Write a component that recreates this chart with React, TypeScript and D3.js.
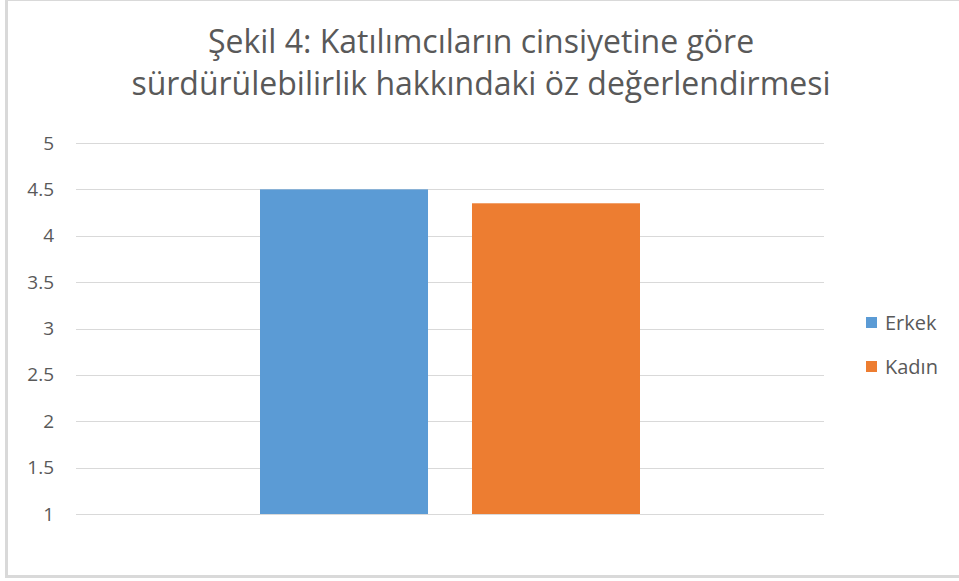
import React, { useEffect, useRef } from 'react';
import * as d3 from 'd3';

// chart data
const titleLines = ['Şekil 4: Katılımcıların cinsiyetine göre', 'sürdürülebilirlik hakkındaki öz değerlendirmesi'];
const category = [''];
const seriesNames = ['Erkek', 'Kadın'];
const seriesValues = [4.5, 4.35];
const seriesColors = ['#5B9BD5', '#ED7D31'];
const yTicks = [1, 1.5, 2, 2.5, 3, 3.5, 4, 4.5, 5];

const W = 959;
const H = 581;
const FONT = "'Open Sans', 'Liberation Sans', sans-serif";
const TEXT = '#595959';

const App = () => {
    const svgRef = useRef<SVGSVGElement>(null);

    useEffect(() => {
        const svg = d3.select(svgRef.current);
        svg.selectAll('*').remove();

        svg.append('rect').attr('width', W).attr('height', H).attr('fill', '#fff');

        // рамка
        const border = svg.append('g').attr('stroke', '#D9D9D9').attr('fill', 'none');
        border.append('line').attr('x1', 6.5).attr('x2', 6.5).attr('y1', 0).attr('y2', 578).attr('stroke-width', 3);
        border.append('line').attr('x1', 5).attr('x2', W).attr('y1', 0.5).attr('y2', 0.5).attr('stroke-width', 1);
        border.append('line').attr('x1', 5).attr('x2', W).attr('y1', 576.5).attr('y2', 576.5).attr('stroke-width', 3);

        // заголовок
        svg.append('g')
            .selectAll('text')
            .data(titleLines)
            .join('text')
            .attr('x', 481)
            .attr('y', (d, i) => 53 + i * 42)
            .attr('text-anchor', 'middle')
            .attr('font-family', FONT)
            .attr('font-size', 32)
            .attr('fill', TEXT)
            .text(d => d);

        const x = d3.scaleBand().domain(category).range([76, 824]);
        const xs = d3.scaleBand().domain(seriesNames).range([0, x.bandwidth()])
            .paddingInner(0.2075).paddingOuter(0.868);
        const y = d3.scaleLinear().domain([1, 5]).range([514, 143]);

        // сетка
        svg.append('g')
            .selectAll('line')
            .data(yTicks)
            .join('line')
            .attr('x1', 76).attr('x2', 824)
            .attr('y1', d => Math.round(y(d)) + 0.5).attr('y2', d => Math.round(y(d)) + 0.5)
            .attr('stroke', '#D9D9D9').attr('stroke-width', 1);

        const yAxis = svg.append('g')
            .attr('transform', 'translate(54,0)')
            .call(d3.axisLeft(y).tickValues(yTicks).tickSize(0).tickPadding(0).tickFormat(d3.format('')));
        yAxis.select('.domain').remove();
        yAxis.selectAll('text')
            .attr('font-family', FONT).attr('font-size', 19).attr('fill', TEXT);

        // столбцы
        svg.append('g')
            .selectAll('rect')
            .data(seriesNames.map((s, i) => ({ s, v: seriesValues[i], c: seriesColors[i] })))
            .join('rect')
            .attr('x', d => (x('') as number) + (xs(d.s) as number))
            .attr('width', xs.bandwidth())
            .attr('y', d => y(d.v))
            .attr('height', d => y(1) - y(d.v))
            .attr('fill', d => d.c);

        // легенда
        const legend = svg.append('g')
            .selectAll('g')
            .data(seriesNames)
            .join('g')
            .attr('transform', (d, i) => `translate(866,${317 + i * 44})`);
        legend.append('rect').attr('width', 11).attr('height', 11).attr('fill', (d, i) => seriesColors[i]);
        legend.append('text')
            .attr('x', 19).attr('y', 13)
            .attr('font-family', FONT).attr('font-size', 20).attr('fill', TEXT)
            .text(d => d);
    }, []);

    return <svg ref={svgRef} width={W} height={H} style={{ position: 'absolute', left: 0, top: 0 }}></svg>;
};

export default App;
